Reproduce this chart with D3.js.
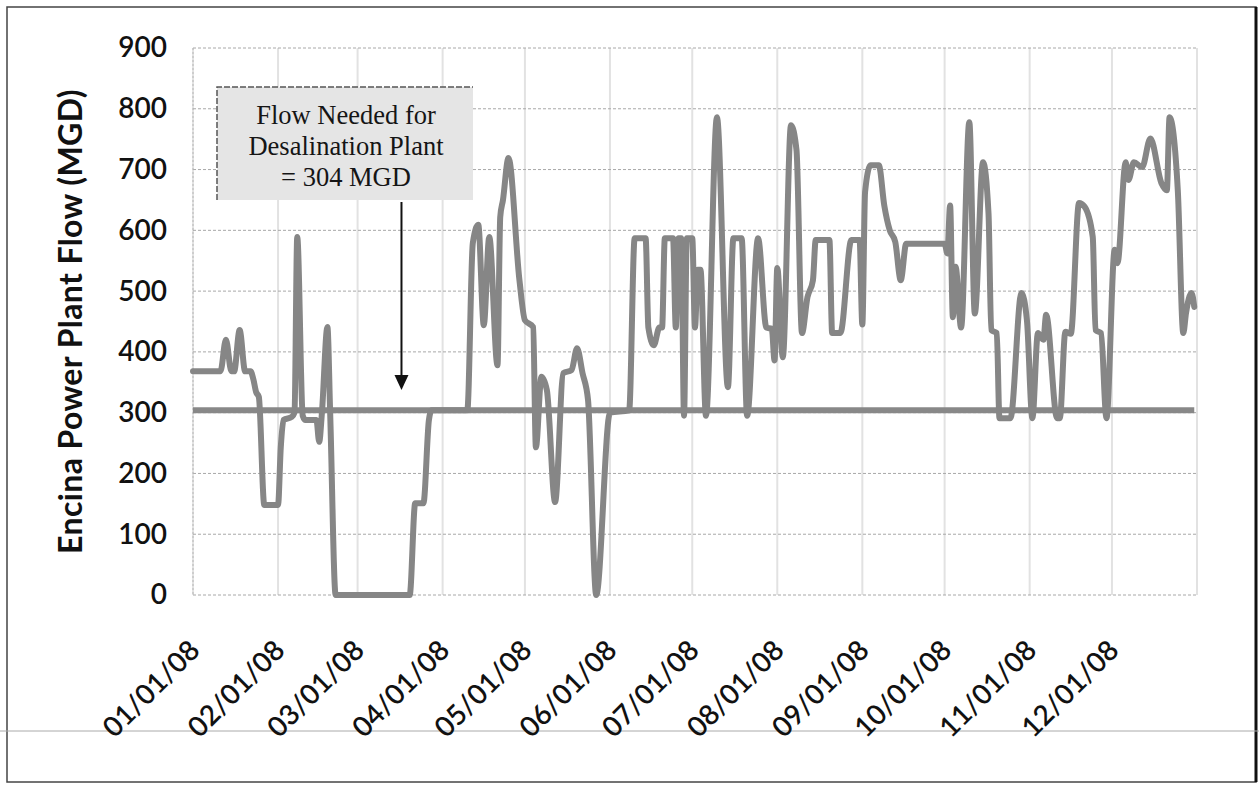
<!DOCTYPE html>
<html>
<head>
<meta charset="utf-8">
<script src="https://cdn.jsdelivr.net/npm/d3@7"></script>
<style>
  body { margin: 0; background: #fff; }
  svg { display: block; }
</style>
</head>
<body>
<svg id="chart" width="1259" height="785"></svg>
<script>
// values (day of year 2008 -> MGD)
var flowDay = [0, 10, 12, 14, 15, 17, 19, 21, 22, 23, 24, 26, 31, 32, 33, 36, 37, 38, 40, 41,
  45, 46, 47, 49, 50, 52, 79, 81, 84, 86, 87, 100, 102, 104, 106, 108, 111, 112, 113, 115,
  119, 121, 124, 125, 127, 129, 132, 135, 138, 140, 142, 144, 147, 152, 159, 161, 165, 166, 168, 170,
  171, 172, 175, 176, 177, 178, 179, 180, 182, 183, 184, 185, 187, 191, 195, 197, 200, 202, 206, 209,
  211, 212, 213, 215, 218, 220, 222, 224, 226, 227, 232, 233, 236, 240, 243, 244, 245, 247, 250, 252,
  254, 256, 258, 260, 274, 275, 276, 277, 278, 280, 283, 285, 288, 290, 291, 293, 294, 298, 302, 304,
  306, 308, 310, 311, 315, 316, 318, 320, 323, 325, 328, 329, 331, 333, 336, 337, 340, 341, 343, 346,
  349, 353, 355, 356, 359, 361, 362, 364, 365];
var flowValue = [368, 368, 420, 368, 368, 436, 368, 368, 355, 334, 326, 148, 148, 243, 288, 293, 300, 589, 295, 288,
  288, 252, 300, 441, 300, 0, 0, 151, 151, 288, 304, 304, 579, 609, 444, 589, 378, 622, 650, 719,
  518, 452, 441, 243, 359, 337, 153, 365, 370, 406, 365, 321, 0, 300, 304, 587, 587, 440, 411, 440,
  440, 587, 587, 440, 587, 587, 295, 587, 587, 440, 535, 535, 295, 786, 342, 587, 587, 295, 587, 440,
  438, 386, 538, 391, 773, 732, 431, 490, 518, 584, 584, 431, 431, 584, 584, 445, 663, 707, 707, 641,
  600, 581, 518, 578, 578, 562, 641, 457, 540, 440, 778, 463, 712, 628, 436, 431, 291, 291, 497, 452,
  291, 431, 420, 461, 291, 291, 433, 430, 645, 639, 589, 436, 431, 291, 568, 546, 712, 683, 712, 704,
  751, 678, 666, 786, 666, 431, 464, 497, 474];

var neededFlow = 304;
var yTicks = [0, 100, 200, 300, 400, 500, 600, 700, 800, 900];
var monthTicks = ["2008-01-01", "2008-02-01", "2008-03-01", "2008-04-01", "2008-05-01", "2008-06-01",
  "2008-07-01", "2008-08-01", "2008-09-01", "2008-10-01", "2008-11-01", "2008-12-01"];
var noteLines = ["Flow Needed for", "Desalination Plant", "= 304 MGD"];
var yTitle = "Encina Power Plant Flow (MGD)";

var parse = d3.timeParse("%Y-%m-%d");
var start = parse("2008-01-01"), end = parse("2009-01-01");

var svg = d3.select("#chart");
var plotLeft = 193, plotRight = 1197, plotTop = 48, plotBottom = 595;

var x = d3.scaleTime().domain([start, end]).range([plotLeft, plotRight]);
var y = d3.scaleLinear().domain([0, 900]).range([plotBottom, plotTop]);

var data = flowDay.map((d, i) => ({ date: d3.timeDay.offset(start, d), value: flowValue[i] }));

// outer frame (scanned page border)
svg.append("rect").attr("x", 7).attr("y", 7).attr("width", 1249).attr("height", 775)
  .attr("fill", "none").attr("stroke", "#444").attr("stroke-width", 1.5);
svg.append("line").attr("x1", 1256).attr("x2", 1256).attr("y1", 7).attr("y2", 782)
  .attr("stroke", "#111").attr("stroke-width", 3);
svg.append("line").attr("x1", 0).attr("x2", 1259).attr("y1", 731).attr("y2", 731)
  .attr("stroke", "#aaa").attr("stroke-width", 1);

// vertical grid at month starts
svg.append("g").selectAll("line")
  .data(monthTicks.map(parse).concat([end]))
  .enter().append("line")
  .attr("x1", d => x(d)).attr("x2", d => x(d))
  .attr("y1", plotTop).attr("y2", plotBottom)
  .attr("stroke", "#e2e2e2").attr("stroke-width", 2);

// horizontal grid
svg.append("g").selectAll("line")
  .data(yTicks)
  .enter().append("line")
  .attr("x1", plotLeft).attr("x2", plotRight)
  .attr("y1", d => y(d)).attr("y2", d => y(d))
  .attr("stroke", "#a8a8a8").attr("stroke-width", 1)
  .attr("stroke-dasharray", "3,2");
svg.append("line").attr("x1", plotLeft).attr("x2", plotLeft).attr("y1", plotTop).attr("y2", plotBottom)
  .attr("stroke", "#b8b8b8").attr("stroke-dasharray", "2,2");

// y axis
var yAxis = svg.append("g")
  .attr("transform", "translate(" + plotLeft + ",0)")
  .call(d3.axisLeft(y).tickValues(yTicks).tickSize(0).tickPadding(26));
yAxis.select(".domain").remove();
yAxis.selectAll("text")
  .attr("font-family", "Lato, 'Open Sans', sans-serif")
  .attr("font-size", 28)
  .attr("font-weight", 600)
  .attr("fill", "#111");

svg.append("text")
  .attr("transform", "translate(82," + (plotTop + plotBottom) / 2 + ") rotate(-90)")
  .attr("text-anchor", "middle")
  .attr("font-family", "Lato, 'Open Sans', sans-serif")
  .attr("font-weight", "bold")
  .attr("font-size", 32)
  .attr("letter-spacing", 0.4)
  .attr("fill", "#111")
  .text(yTitle);

// x axis
var xAxis = svg.append("g")
  .attr("transform", "translate(0," + plotBottom + ")")
  .call(d3.axisBottom(x).tickValues(monthTicks.map(parse)).tickSize(0)
    .tickFormat(d3.timeFormat("%m/%d/%y")));
xAxis.select(".domain").remove();
xAxis.selectAll("text")
  .attr("x", 0).attr("y", 0).attr("dy", 0)
  .attr("transform", "translate(8,57) rotate(-45)")
  .style("text-anchor", "end")
  .attr("font-family", "Lato, 'Open Sans', sans-serif")
  .attr("font-size", 28)
  .attr("font-weight", 600)
  .attr("fill", "#111");

// needed flow line
svg.append("line")
  .attr("x1", plotLeft).attr("x2", x(d3.timeDay.offset(start, 365.3)))
  .attr("y1", y(neededFlow)).attr("y2", y(neededFlow))
  .attr("stroke", "#888").attr("stroke-width", 6);

// flow series
var line = d3.line().x(d => x(d.date)).y(d => y(d.value)).curve(d3.curveMonotoneX);
svg.append("path")
  .datum(data)
  .attr("d", line)
  .attr("fill", "none")
  .attr("stroke", "#868686")
  .attr("stroke-width", 6)
  .attr("stroke-linejoin", "round")
  .attr("stroke-linecap", "round");

// annotation box
var note = svg.append("g");
note.append("rect").attr("x", 217).attr("y", 87).attr("width", 256).attr("height", 113)
  .attr("fill", "#e5e5e5");
note.append("path").attr("d", "M217,200V87H473")
  .attr("fill", "none").attr("stroke", "#555").attr("stroke-width", 1.5)
  .attr("stroke-dasharray", "6,2");
note.selectAll("text")
  .data(noteLines)
  .enter().append("text")
  .attr("x", 346)
  .attr("y", (d, i) => 124 + i * 31)
  .attr("text-anchor", "middle")
  .attr("font-family", "'Liberation Serif', 'Times New Roman', serif")
  .attr("font-size", 26.5)
  .attr("fill", "#151515")
  .text(d => d);

// arrow pointing at the needed-flow line
var ax = x(parse("2008-03-17"));
note.append("line").attr("x1", ax).attr("x2", ax).attr("y1", 202).attr("y2", 378)
  .attr("stroke", "#111").attr("stroke-width", 2);
note.append("path")
  .attr("d", "M" + (ax - 7) + ",375L" + (ax + 7) + ",375L" + ax + ",390Z")
  .attr("fill", "#111");
</script>
</body>
</html>
